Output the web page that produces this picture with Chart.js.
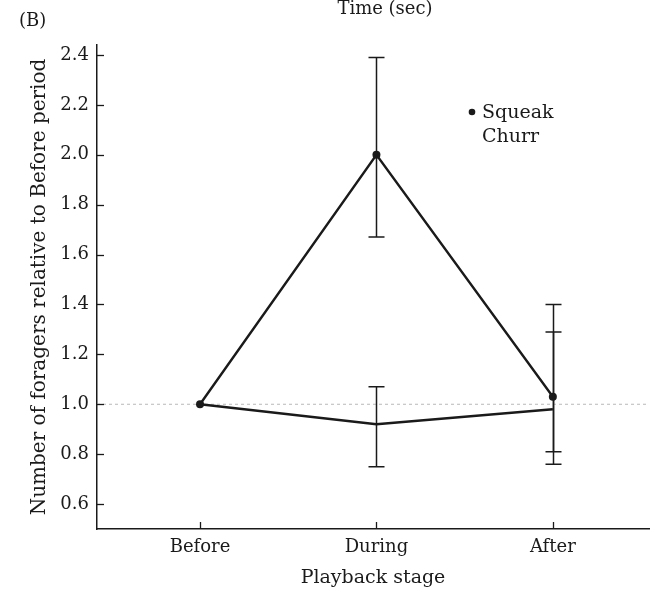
<!DOCTYPE html>
<html>
<head>
<meta charset="utf-8">
<script src="https://cdn.jsdelivr.net/npm/chart.js@4"></script>
<style>
  html, body { margin: 0; padding: 0; background: #fff; }
  #wrap { width: 653px; height: 595px; position: relative; }
</style>
</head>
<body>
<div id="wrap"><canvas id="foragers" width="653" height="595"></canvas></div>
<script>
// Playback stages on the x axis
const stages = ["Before", "During", "After"];

// Squeak playback: mean ratio and error bar ends
const squeakMean = [1.0, 2.0, 1.03];
const squeakHigh = [null, 2.39, 1.40];
const squeakLow = [null, 1.67, 0.76];

// Churr playback
const churrMean = [1.0, 0.92, 0.98];
const churrHigh = [null, 1.07, 1.29];
const churrLow = [null, 0.75, 0.81];

const yTicks = [0.6, 0.8, 1.0, 1.2, 1.4, 1.6, 1.8, 2.0, 2.2, 2.4];
const refLevel = 1.0;

const INK = "#1a1a1a";
const SERIF = "'DejaVu Serif', serif";

const toPoints = (vals) => vals.map((v, i) => ({ x: i, y: v }));

// reference line, inward ticks, error bars and loose labels
const decorations = {
  id: "decorations",
  beforeDatasetsDraw(chart) {
    const { ctx, chartArea, scales } = chart;
    const { x, y } = scales;
    ctx.save();
    // dotted line at 1.0
    ctx.strokeStyle = "#b8b8b8";
    ctx.lineWidth = 1;
    ctx.setLineDash([3, 3]);
    const yr = y.getPixelForValue(refLevel);
    ctx.beginPath();
    ctx.moveTo(chartArea.left, yr);
    ctx.lineTo(chartArea.right, yr);
    ctx.stroke();
    ctx.setLineDash([]);

    // tick marks pointing into the plot
    ctx.strokeStyle = INK;
    ctx.lineWidth = 1.3;
    yTicks.forEach((t) => {
      const py = Math.round(y.getPixelForValue(t)) + 0.5;
      ctx.beginPath();
      ctx.moveTo(chartArea.left, py);
      ctx.lineTo(chartArea.left + 7, py);
      ctx.stroke();
    });
    stages.forEach((s, i) => {
      const px = Math.round(x.getPixelForValue(i)) + 0.5;
      ctx.beginPath();
      ctx.moveTo(px, chartArea.bottom);
      ctx.lineTo(px, chartArea.bottom - 7);
      ctx.stroke();
    });
    ctx.restore();
  },
  afterDatasetsDraw(chart) {
    const { ctx, scales } = chart;
    const { x, y } = scales;
    ctx.save();
    ctx.strokeStyle = INK;
    ctx.lineWidth = 1.5;
    const bars = (lo, hi) => {
      lo.forEach((l, i) => {
        if (l == null) return;
        const px = Math.round(x.getPixelForValue(i)) + 0.5;
        const p1 = y.getPixelForValue(l);
        const p2 = y.getPixelForValue(hi[i]);
        ctx.beginPath();
        ctx.moveTo(px, p1);
        ctx.lineTo(px, p2);
        ctx.moveTo(px - 8, p1);
        ctx.lineTo(px + 8, p1);
        ctx.moveTo(px - 8, p2);
        ctx.lineTo(px + 8, p2);
        ctx.stroke();
      });
    };
    bars(squeakLow, squeakHigh);
    bars(churrLow, churrHigh);

    ctx.fillStyle = INK;
    ctx.font = "18px " + SERIF;
    ctx.textBaseline = "middle";
    ctx.textAlign = "left";
    ctx.fillText("(B)", 19, 21);
    ctx.textAlign = "center";
    ctx.fillText("Time (sec)", 385, 9);

    // legend
    ctx.font = "19px " + SERIF;
    ctx.textAlign = "left";
    ctx.beginPath();
    ctx.arc(472, 112, 3.3, 0, Math.PI * 2);
    ctx.fill();
    ctx.fillText("Squeak", 482, 113);
    ctx.fillText("Churr", 482, 137);
    ctx.restore();
  }
};

new Chart(document.getElementById("foragers"), {
  type: "line",
  data: {
    datasets: [
      {
        label: "Squeak",
        data: toPoints(squeakMean),
        borderColor: INK,
        backgroundColor: INK,
        borderWidth: 2.4,
        pointRadius: 4,
        pointBorderWidth: 0,
        tension: 0
      },
      {
        label: "Churr",
        data: toPoints(churrMean),
        borderColor: INK,
        borderWidth: 2.4,
        pointRadius: 0,
        tension: 0
      }
    ]
  },
  options: {
    responsive: false,
    animation: false,
    layout: { padding: { top: 45, right: 0, bottom: 0, left: 0 } },
    plugins: {
      legend: { display: false },
      tooltip: { enabled: false }
    },
    scales: {
      x: {
        type: "linear",
        min: -0.584,
        max: 2.545,
        afterBuildTicks: (scale) => {
          scale.ticks = stages.map((s, i) => ({ value: i }));
        },
        afterFit: (scale) => { scale.height = 66; },
        grid: { display: false, drawTicks: false },
        border: { color: INK, width: 1.5 },
        ticks: {
          color: INK,
          font: { family: SERIF, size: 18 },
          padding: 8,
          callback: (v) => stages[v]
        },
        title: {
          display: true,
          text: "Playback stage",
          color: INK,
          font: { family: SERIF, size: 19 },
          padding: { top: 0, bottom: 6 }
        }
      },
      y: {
        min: 0.5,
        max: 2.44,
        afterBuildTicks: (scale) => {
          scale.ticks = yTicks.map((v) => ({ value: v }));
        },
        afterFit: (scale) => { scale.width = 97; },
        grid: { display: false, drawTicks: false },
        border: { color: INK, width: 1.5 },
        ticks: {
          color: INK,
          font: { family: SERIF, size: 18 },
          padding: 8,
          callback: (v) => v.toFixed(1)
        },
        title: {
          display: true,
          text: "Number of foragers relative to Before period",
          color: INK,
          font: { family: SERIF, size: 20 },
          padding: { top: 28, bottom: 0 }
        }
      }
    }
  },
  plugins: [decorations]
});
</script>
</body>
</html>
